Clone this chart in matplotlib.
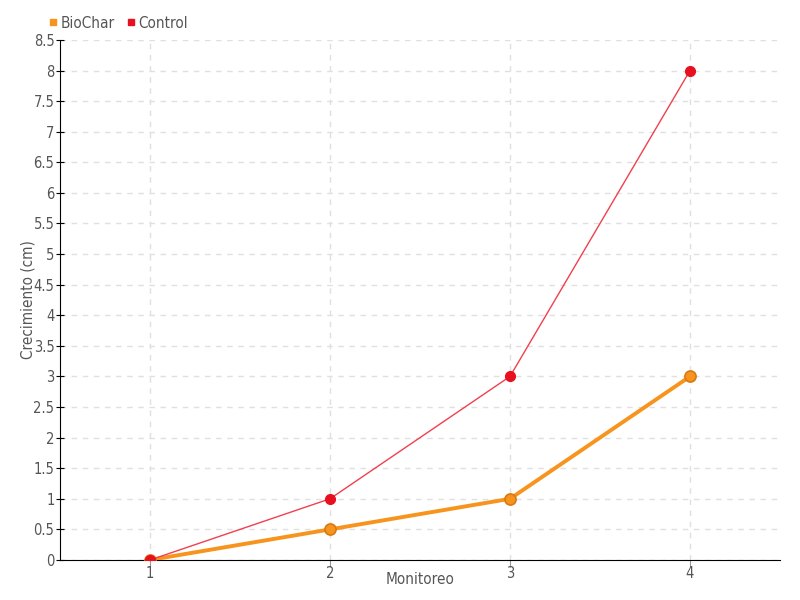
import numpy as np
import matplotlib
matplotlib.use("Agg")
import matplotlib.pyplot as plt
from matplotlib.lines import Line2D

# datos
monitoreo = [1, 2, 3, 4]
biochar = [0, 0.5, 1, 3]
control = [0, 1, 3, 8]
yticks = np.arange(0, 8.51, 0.5)
ytick_labels = ["0", "0.5", "1", "1.5", "2", "2.5", "3", "3.5", "4", "4.5",
                "5", "5.5", "6", "6.5", "7", "7.5", "8", "8.5"]

plt.rcParams['font.family'] = ['DejaVu Sans']
plt.rcParams['font.stretch'] = 'condensed'
plt.rcParams['font.weight'] = 'light'
txt = '#555555'

fig = plt.figure(figsize=(8, 6), dpi=100)
ax = fig.add_axes([0.075, 0.0667, 0.9, 0.8667])

ax.plot(monitoreo, biochar, color='#f7941d', lw=2.8, marker='o', ms=8,
        mfc='#f7941d', mec='#d87a10', mew=1.2, zorder=3)
ax.plot(monitoreo, control, color='#f0404f', lw=1, marker='o', ms=7,
        mfc='#e8101e', mec='#e8101e', zorder=4)

ax.set_xlim(0.5, 4.5)
ax.set_ylim(0, 8.5)
ax.set_xticks(monitoreo)
ax.set_xticklabels([str(m) for m in monitoreo])
ax.set_yticks(yticks)
ax.set_yticklabels(ytick_labels)

ax.grid(True, color='#e0e0e0', ls=(0, (4, 4)), lw=1)
ax.set_axisbelow(True)
for s in ['top', 'right']:
    ax.spines[s].set_visible(False)
ax.spines['left'].set_color('black')
ax.spines['bottom'].set_color('black')
ax.tick_params(axis='y', direction='inout', length=6, labelsize=10.5,
               labelcolor=txt, pad=1)
ax.tick_params(axis='x', direction='out', length=5, labelsize=10.5,
               labelcolor=txt, pad=-1, color='#999999')

ax.set_xlabel('Monitoreo', fontsize=11, color=txt, labelpad=-6)
ax.set_ylabel('Crecimiento (cm)', fontsize=11, color=txt)
ax.yaxis.set_label_coords(-0.034, 0.5)

handles = [Line2D([], [], ls='', marker='s', ms=5, color='#f7941d'),
           Line2D([], [], ls='', marker='s', ms=5, color='#e8101e')]
leg = fig.legend(handles, ['BioChar', 'Control'], loc='upper left',
                 bbox_to_anchor=(0.042, 0.997), ncol=2, frameon=False,
                 fontsize=11, handletextpad=0.1, columnspacing=0.6,
                 handlelength=0.8)
for t in leg.get_texts():
    t.set_color(txt)

fig.savefig('out.png', dpi=100)
